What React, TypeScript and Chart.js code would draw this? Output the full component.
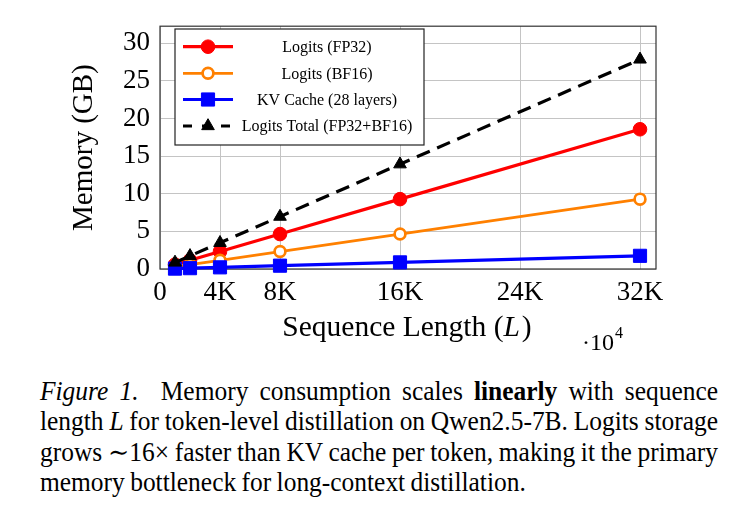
import React, { useEffect, useRef } from "react";
import { Chart, registerables } from "chart.js";

Chart.register(...registerables);

const seqLengths = [1024, 2048, 4096, 8192, 16384, 32768];
const logitsFP32 = [0.58, 1.16, 2.32, 4.64, 9.28, 18.56];
const logitsBF16 = [0.29, 0.58, 1.16, 2.32, 4.64, 9.28];
const kvCache = [0.05, 0.11, 0.22, 0.44, 0.88, 1.75];
const logitsTotal = [0.87, 1.74, 3.48, 6.96, 13.92, 27.84];

const xTickValues = [0, 4096, 8192, 16384, 24576, 32768];
const xTickLabels = ["0", "4K", "8K", "16K", "24K", "32K"];
const yTickValues = [0, 5, 10, 15, 20, 25, 30];

const seriesNames = [
  "Logits (FP32)",
  "Logits (BF16)",
  "KV Cache (28 layers)",
  "Logits Total (FP32+BF16)",
];

const SERIF = "'Liberation Serif', 'DejaVu Serif', serif";

const toPts = (ys: number[]) => seqLengths.map((x, i) => ({ x, y: ys[i] }));

const decorPlugin = {
  id: "decor",
  beforeDatasetsDraw(chart: any) {
    const { ctx, chartArea } = chart;
    ctx.save();
    ctx.strokeStyle = "#333";
    ctx.lineWidth = 1.2;
    ctx.strokeRect(chartArea.left, chartArea.top, chartArea.right - chartArea.left, chartArea.bottom - chartArea.top);
    ctx.restore();
  },
  afterDatasetsDraw(chart: any) {
    const { ctx, chartArea } = chart;
    ctx.save();
    // y title
    ctx.fillStyle = "#000";
    ctx.font = `29px ${SERIF}`;
    ctx.translate(84, (chartArea.top + chartArea.bottom) / 2);
    ctx.rotate(-Math.PI / 2);
    ctx.textAlign = "center";
    ctx.textBaseline = "middle";
    ctx.fillText("Memory (GB)", 0, 0);
    ctx.restore();

    // x title
    ctx.save();
    ctx.fillStyle = "#000";
    const p1 = "Sequence Length (";
    const p2 = "L";
    const p3 = ")";
    const fs = 29.5;
    ctx.font = `${fs}px ${SERIF}`;
    const w1 = ctx.measureText(p1).width;
    const w3 = ctx.measureText(p3).width;
    ctx.font = `italic ${fs}px ${SERIF}`;
    const w2 = ctx.measureText(p2).width;
    const total = w1 + w2 + w3 + 2;
    let x = 407 - total / 2;
    const by = 336;
    ctx.textBaseline = "alphabetic";
    ctx.textAlign = "left";
    ctx.font = `${fs}px ${SERIF}`;
    ctx.fillText(p1, x, by);
    x += w1;
    ctx.font = `italic ${fs}px ${SERIF}`;
    ctx.fillText(p2, x, by);
    x += w2 + 2;
    ctx.font = `${fs}px ${SERIF}`;
    ctx.fillText(p3, x, by);

    // multiplier
    ctx.font = `24px ${SERIF}`;
    ctx.fillText("\u00B710", 582, 350);
    const wm = ctx.measureText("\u00B710").width;
    ctx.font = `16px ${SERIF}`;
    ctx.fillText("4", 582 + wm + 1, 338);
    ctx.restore();

    // legend
    ctx.save();
    const lx = 175, ly = 29, lw = 249, lh = 116;
    ctx.fillStyle = "#fff";
    ctx.fillRect(lx, ly, lw, lh);
    ctx.strokeStyle = "#222";
    ctx.lineWidth = 1.2;
    ctx.strokeRect(lx, ly, lw, lh);
    const rows = [46.7, 73.3, 99.5, 126];
    const ds = chart.data.datasets;
    rows.forEach((ry, i) => {
      const d = ds[i];
      ctx.save();
      ctx.strokeStyle = d.borderColor;
      ctx.lineWidth = d.borderWidth;
      if (d.borderDash) ctx.setLineDash([9, 10]);
      ctx.beginPath();
      ctx.moveTo(183, ry);
      ctx.lineTo(233, ry);
      ctx.stroke();
      ctx.setLineDash([]);
      const mx = 208;
      ctx.fillStyle = d.pointBackgroundColor;
      ctx.strokeStyle = d.pointBorderColor;
      ctx.lineWidth = d.pointBorderWidth;
      const r = d.pointRadius;
      ctx.beginPath();
      if (d.pointStyle === "circle") {
        ctx.arc(mx, ry, r, 0, Math.PI * 2);
      } else if (d.pointStyle === "rect") {
        const s = Math.SQRT1_2 * r;
        ctx.rect(mx - s, ry - s, 2 * s, 2 * s);
      } else if (d.pointStyle === "triangle") {
        const a = (2 * Math.PI) / 3;
        ctx.moveTo(mx, ry - r);
        ctx.lineTo(mx + Math.sin(a) * r, ry - Math.cos(a) * r);
        ctx.lineTo(mx + Math.sin(2 * a) * r, ry - Math.cos(2 * a) * r);
        ctx.closePath();
      }
      ctx.fill();
      ctx.stroke();
      ctx.restore();
      ctx.fillStyle = "#000";
      ctx.font = `16px ${SERIF}`;
      ctx.textAlign = "center";
      ctx.textBaseline = "middle";
      ctx.fillText(seriesNames[i], 327, ry + 1);
    });
    ctx.restore();
  },
};

export default function App() {
  const ref = useRef<HTMLCanvasElement | null>(null);
  useEffect(() => {
    if (!ref.current) return;
    const chart = new Chart(ref.current, {
      type: "line",
      data: {
        datasets: [
          {
            label: seriesNames[0],
            data: toPts(logitsFP32),
            borderColor: "#ff0000",
            backgroundColor: "#ff0000",
            borderWidth: 3.2,
            pointStyle: "circle",
            pointRadius: 6.8,
            pointBackgroundColor: "#ff0000",
            pointBorderColor: "#ff0000",
            pointBorderWidth: 1,
            order: 3,
            clip: false,
          },
          {
            label: seriesNames[1],
            data: toPts(logitsBF16),
            borderColor: "#ff8000",
            backgroundColor: "#ffffff",
            borderWidth: 2.8,
            pointStyle: "circle",
            pointRadius: 5.4,
            pointBackgroundColor: "#ffffff",
            pointBorderColor: "#ff8000",
            pointBorderWidth: 2.7,
            order: 2,
            clip: false,
          },
          {
            label: seriesNames[2],
            data: toPts(kvCache),
            borderColor: "#0000ff",
            backgroundColor: "#0000ff",
            borderWidth: 3.2,
            pointStyle: "rect",
            pointRadius: 9.3,
            pointBackgroundColor: "#0000ff",
            pointBorderColor: "#0000ff",
            pointBorderWidth: 1,
            order: 1,
            clip: false,
          },
          {
            label: seriesNames[3],
            data: toPts(logitsTotal),
            borderColor: "#000000",
            backgroundColor: "#000000",
            borderWidth: 3.2,
            borderDash: [14, 8],
            pointStyle: "triangle",
            pointRadius: 7.3,
            pointBackgroundColor: "#000000",
            pointBorderColor: "#000000",
            pointBorderWidth: 1,
            order: 0,
            clip: false,
          },
        ] as any,
      },
      options: {
        animation: false,
        responsive: false,
        maintainAspectRatio: false,
        layout: { padding: { left: 0, top: 21, right: 80, bottom: 0 } },
        plugins: { legend: { display: false }, tooltip: { enabled: false } },
        elements: { line: { tension: 0 } },
        scales: {
          x: {
            type: "linear",
            min: 0,
            max: 33860,
            afterFit(s: any) {
              s.height = 101;
            },
            afterBuildTicks(s: any) {
              s.ticks = xTickValues.map((v) => ({ value: v }));
            },
            ticks: {
              autoSkip: false,
              maxRotation: 0,
              padding: 8,
              color: "#000",
              font: { family: SERIF, size: 27 },
              callback: (v: any) => {
                const i = xTickValues.indexOf(Number(v));
                return i >= 0 ? xTickLabels[i] : "";
              },
            },
            grid: { color: "#c4c4c4", lineWidth: 1, drawTicks: false },
            border: { display: false },
          },
          y: {
            type: "linear",
            min: 0,
            max: 32.25,
            afterFit(s: any) {
              s.width = 160;
            },
            afterBuildTicks(s: any) {
              s.ticks = yTickValues.map((v) => ({ value: v }));
            },
            ticks: {
              padding: 10,
              color: "#000",
              font: { family: SERIF, size: 27 },
              callback: (v: any) => String(v),
            },
            grid: { color: "#c4c4c4", lineWidth: 1, drawTicks: false },
            border: { display: false },
          },
        },
      } as any,
      plugins: [decorPlugin],
    });
    return () => chart.destroy();
  }, []);

  const lineStyle: React.CSSProperties = {
    height: "30.3px",
    lineHeight: "30.3px",
    whiteSpace: "nowrap",
    textAlign: "justify",
    textAlignLast: "justify" as any,
  };

  const scale = 0.96;

  return (
    <div style={{ position: "fixed", left: 0, top: 0, width: 736, height: 513, background: "#fff", overflow: "hidden" }}>
      <canvas ref={ref} width={736} height={370} style={{ position: "absolute", left: 0, top: 0, width: 736, height: 370 }} />
      <div
        style={{
          position: "absolute",
          left: 40,
          top: 376,
          width: 678 / scale,
          transform: `scaleX(${scale})`,
          transformOrigin: "0 0",
          fontFamily: SERIF,
          fontSize: "26.5px",
          wordSpacing: "-1px",
          color: "#000",
        }}
      >
        <div style={lineStyle}>
          <i>Figure 1.</i>&nbsp; Memory consumption scales <b>linearly</b> with sequence
        </div>
        <div style={lineStyle}>
          length <i>L</i> for token-level distillation on Qwen2.5-7B. Logits storage
        </div>
        <div style={lineStyle}>
          grows ∼16× faster than KV cache per token, making it the primary
        </div>
        <div style={{ ...lineStyle, textAlign: "left", textAlignLast: "left" as any }}>
          memory bottleneck for long-context distillation.
        </div>
      </div>
    </div>
  );
}
